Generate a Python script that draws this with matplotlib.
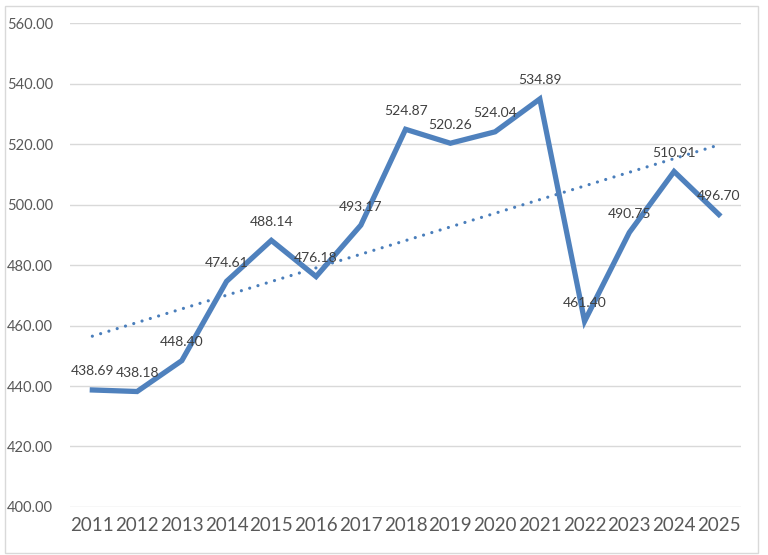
import numpy as np
import matplotlib
matplotlib.use("Agg")
import matplotlib.pyplot as plt
from matplotlib.patches import Rectangle

# data
years = ['2011', '2012', '2013', '2014', '2015', '2016', '2017', '2018',
         '2019', '2020', '2021', '2022', '2023', '2024', '2025']
values = [438.69, 438.18, 448.40, 474.61, 488.14, 476.18, 493.17, 524.87,
          520.26, 524.04, 534.89, 461.40, 490.75, 510.91, 496.70]
y_ticks = [400, 420, 440, 460, 480, 500, 520, 540, 560]

plt.rcParams['font.family'] = ['Lato', 'DejaVu Sans']

blue = '#4F81BD'
fig = plt.figure(figsize=(7.68, 5.55), dpi=100)
ax = fig.add_axes([0.0911, 0.0865, 0.874, 0.872])

x = np.arange(len(years))
ax.plot(x, values, color=blue, lw=3.8, solid_joinstyle='miter', zorder=3)

# linear trendline (round dots, like Excel)
k, b = np.polyfit(x, values, 1)
ax.plot(x, k * x + b, color='#4A7EBB', lw=2.3, linestyle=(0, (0.01, 2.7)),
        dash_capstyle='round', zorder=2)

for xi, v in zip(x, values):
    ax.annotate(f'{v:.2f}', (xi, v), xytext=(0, 9), textcoords='offset points',
                ha='center', va='bottom', fontsize=10, color='#404040', zorder=4)

ax.set_xlim(-0.5, len(years) - 0.5)
ax.set_ylim(400, 560)
ax.set_xticks(x)
ax.set_xticklabels(years, fontsize=13.5, color='#595959')
ax.set_yticks(y_ticks)
ax.set_yticklabels([f'{t:.2f}' for t in y_ticks], fontsize=10.5, color='#595959')
ax.tick_params(axis='both', length=0)
ax.tick_params(axis='y', pad=12)
ax.tick_params(axis='x', pad=7)
ax.grid(axis='y', color='#D9D9D9', lw=1)
ax.set_axisbelow(True)
for s in ax.spines.values():
    s.set_visible(False)

fig.patches.append(Rectangle((5 / 768, 2 / 555), 753 / 768, 547 / 555,
                             transform=fig.transFigure, fill=False,
                             edgecolor='#D9D9D9', lw=1))

fig.savefig('out.png', dpi=100)
